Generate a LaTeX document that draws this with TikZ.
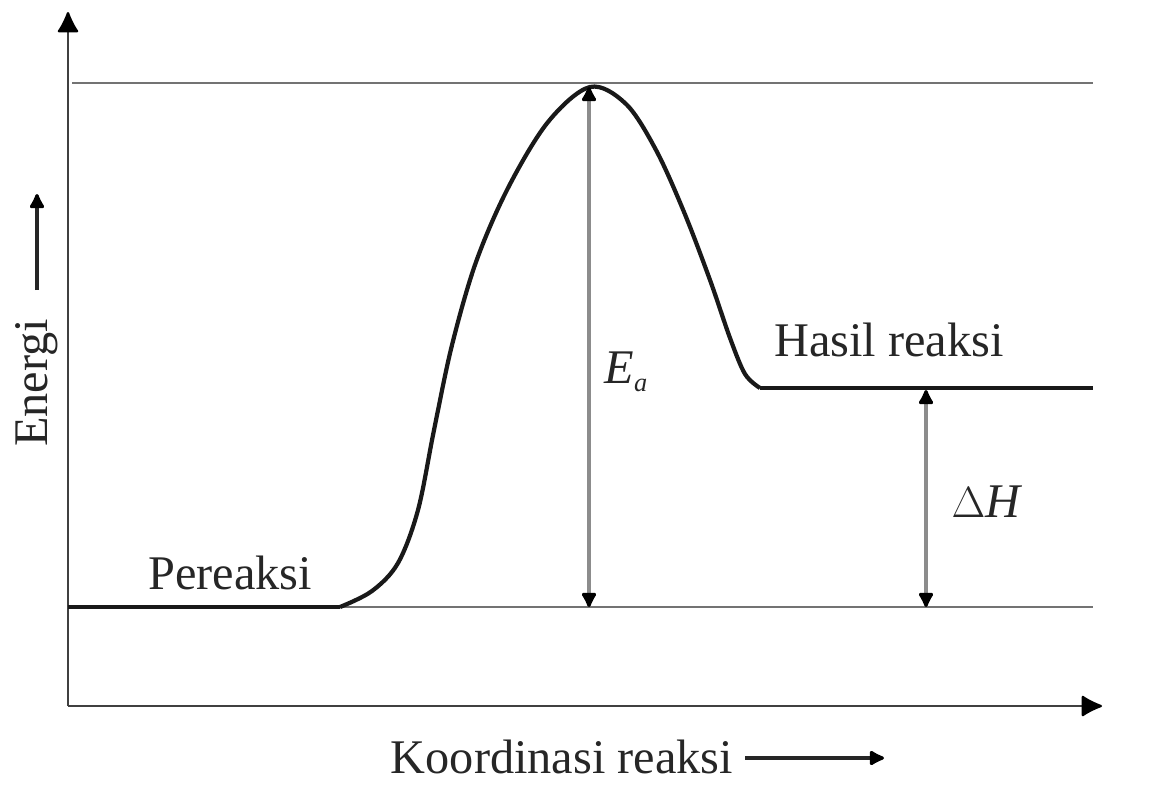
\documentclass[tikz,border=0pt]{standalone}
\usepackage{fontspec}
\setmainfont{Liberation Serif}
\usetikzlibrary{arrows.meta}
\begin{document}
\begin{tikzpicture}[x=0.02cm,y=-0.02cm,
  axis/.style={draw=black!75,line width=1.3pt},
  guide/.style={draw=black!55,line width=0.8pt},
  curve/.style={draw=black!90,line width=2.4pt,line join=round},
  meas/.style={draw=black!45,line width=1.8pt,{Latex[length=10pt,width=10pt,round,color=black]}-{Latex[length=10pt,width=10pt,round,color=black]}},
  lbl/.style={font=\fontsize{27.5}{32}\selectfont,text=black!85,inner sep=0pt},
  bigtip/.style={-{Latex[length=13pt,width=13pt,round,color=black]}}]
\useasboundingbox (0,0) rectangle (1152,796);
% coordinates
\coordinate (O) at (68,706);
\coordinate (ytop) at (68,12);
\coordinate (xend) at (1102,706);
\coordinate (tl) at (72,83);
\coordinate (tr) at (1093,83);
\coordinate (bl) at (68,607);
\coordinate (br) at (1093,607);
\coordinate (r0) at (68,607);
\coordinate (r1) at (340,607);
\coordinate (p0) at (760,388);
\coordinate (p1) at (1093,388);
\coordinate (eaTop) at (589,87);
\coordinate (eaBot) at (589,607);
\coordinate (dhTop) at (926,390);
\coordinate (dhBot) at (926,607);
% axes
\draw[axis,bigtip] (O) -- (ytop);
\draw[axis,bigtip] (O) -- (xend);
% guide lines
\draw[guide] (tl) -- (tr);
\draw[guide] (bl) -- (br);
% energy profile
\draw[curve] (r0) -- (r1);
\draw[curve] plot[smooth,tension=0.55] coordinates{(340,607) (372,591) (398,563) (418,510) (434,430) (452,345) (476,262) (508,188) (548,122) (590,87) (626,104) (656,150) (684,212) (710,280) (730,338) (745,374) (760,388)};
\draw[curve] (p0) -- (p1);
% measurements
\draw[meas] (eaTop) -- (eaBot);
\draw[meas] (dhTop) -- (dhBot);
% labels
\node[lbl] (ea) at (626,372) {\textit{E}\raisebox{-0.35ex}{\fontsize{15}{17}\selectfont\textit{a}}};
\node[lbl] (dh) at (986,502) {$\Delta\mathit{H}$};
\node[lbl] (hasil) at (889,340) {Hasil reaksi};
\node[lbl] (pere) at (230,573) {Pereaksi};
\node[lbl] (koord) at (562,757) {Koordinasi reaksi};
\node[lbl,rotate=90] (energi) at (37,383) {Energi};
% small direction arrows
\coordinate (ka) at (745,758);
\coordinate (kb) at (884,758);
\draw[line width=1.8pt,black!85,-{Latex[length=10pt,width=10pt,round,color=black]}] (ka) -- (kb);
\coordinate (ea1) at (37,290);
\coordinate (ea2) at (37,194);
\draw[line width=1.8pt,black!85,-{Latex[length=10pt,width=10pt,round,color=black]}] (ea1) -- (ea2);
\end{tikzpicture}
\end{document}
